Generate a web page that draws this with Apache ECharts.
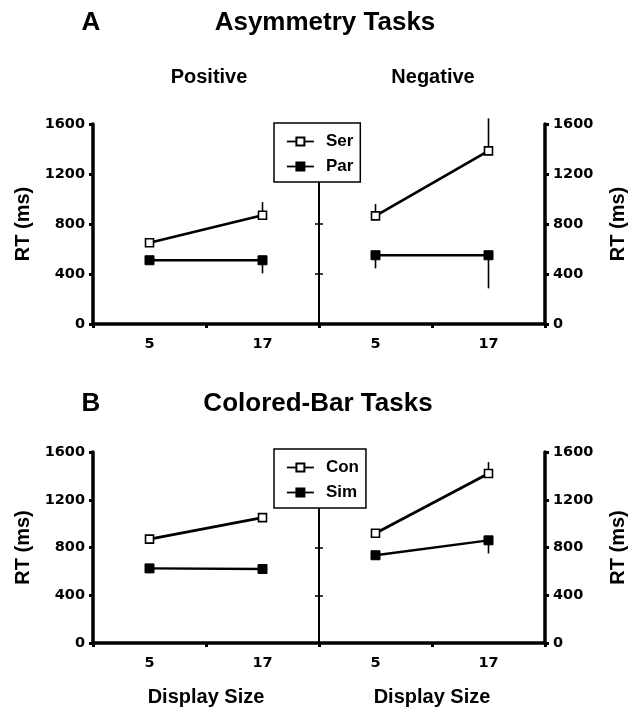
<!DOCTYPE html>
<html>
<head>
<meta charset="utf-8">
<script src="https://cdn.jsdelivr.net/npm/echarts@6/dist/echarts.min.js"></script>
<style>
html,body{margin:0;padding:0;background:#fff;}
#chart{width:629px;height:711px;}
</style>
</head>
<body>
<div id="chart"></div>
<script>
// ---- data ----
const categories = ['5', '17'];
const yTickLabels = ['0', '400', '800', '1200', '1600'];
// Panel A: Asymmetry tasks
const posSer = [650, 870];
const posSerErr = [35, 105];
const posPar = [510, 510];
const posParErr = [0, 105];
const negSer = [865, 1385];
const negSerErr = [95, 260];
const negPar = [550, 550];
const negParErr = [105, 265];
// Panel B: Colored-bar tasks
const leftCon = [870, 1050];
const leftConErr = [0, 0];
const leftSim = [625, 620];
const leftSimErr = [0, 0];
const rightCon = [920, 1420];
const rightConErr = [0, 95];
const rightSim = [735, 860];
const rightSimErr = [0, 110];

const FONT = "'Liberation Sans', Arial, Helvetica, sans-serif";
const TICKFONT = "'DejaVu Sans', sans-serif";
const chart = echarts.init(document.getElementById('chart'), null, {renderer: 'canvas'});

const grids = [
  {left: 93, top: 124, width: 226, height: 200},
  {left: 319, top: 124, width: 228, height: 200},
  {left: 93, top: 452, width: 226, height: 191},
  {left: 319, top: 452, width: 228, height: 191}
];

function xAx(gi, withName) {
  return {
    type: 'category', gridIndex: gi, data: categories, boundaryGap: true,
    axisLine: {lineStyle: {color: '#000', width: 3.5}},
    axisTick: {show: true, length: 4, lineStyle: {color: '#000', width: 3}},
    axisLabel: {color: '#000', fontSize: 14.5, fontWeight: 'bold', fontFamily: TICKFONT, margin: 13},
    name: withName ? 'Display Size' : '',
    nameLocation: 'middle', nameGap: 44,
    nameTextStyle: {color: '#000', fontSize: 20, fontWeight: 'bold', fontFamily: FONT}
  };
}
function yMain(gi, pos) {
  return {
    type: 'value', gridIndex: gi, position: pos, min: 0, max: 1600, interval: 400,
    axisLine: {show: true, lineStyle: {color: '#000', width: 3.5}},
    axisTick: {show: true, length: 4, lineStyle: {color: '#000', width: 3}},
    axisLabel: {color: '#000', fontSize: 14.5, fontWeight: 'bold', fontFamily: TICKFONT, margin: 8,
      formatter: v => yTickLabels[Math.round(v / 400)]},
    splitLine: {show: false},
    name: 'RT (ms)', nameLocation: 'middle', nameRotate: 90,
    nameGap: pos === 'left' ? 60 : 63,
    nameTextStyle: {color: '#000', fontSize: 20, fontWeight: 'bold', fontFamily: FONT}
  };
}
function yMid(gi, inside, showLine) {
  return {
    type: 'value', gridIndex: gi, position: 'left', min: 0, max: 1600, interval: 400,
    axisLine: {show: showLine, lineStyle: {color: '#000', width: 2}},
    axisTick: {show: true, inside: inside, length: 4, lineStyle: {color: '#000', width: 1.5}},
    axisLabel: {show: false}, splitLine: {show: false}
  };
}

function lineSeries(name, xi, yi, vals, open) {
  return {
    type: 'line', name: name, xAxisIndex: xi, yAxisIndex: yi, data: vals,
    symbol: 'rect', symbolSize: open ? 8 : 9,
    lineStyle: {color: '#000', width: open ? 2.8 : 2.3},
    itemStyle: open ? {color: '#fff', borderColor: '#000', borderWidth: 1.6}
                    : {color: '#000', borderColor: '#000', borderWidth: 1},
    z: 4, animation: false, silent: true
  };
}
function errSeries(xi, yi, vals, errs, dir) {
  return {
    type: 'custom', xAxisIndex: xi, yAxisIndex: yi, z: 3, silent: true, animation: false,
    data: vals.map((v, i) => [i, v, errs[i]]),
    renderItem: function (params, api) {
      const x = api.value(0), v = api.value(1), e = api.value(2);
      if (!e) return null;
      const p1 = api.coord([x, v]);
      const p2 = api.coord([x, v + dir * e]);
      return {type: 'line', shape: {x1: p1[0], y1: p1[1], x2: p2[0], y2: p2[1]},
        style: {stroke: '#000', lineWidth: 1.6}};
    }
  };
}
function legend(names, top) {
  return {
    data: names, orient: 'vertical', left: 274, top: top,
    padding: [10, 7, 7, 12], itemGap: 8, itemWidth: 27, itemHeight: 10,
    backgroundColor: '#fff', borderColor: '#000', borderWidth: 1.5, borderRadius: 0,
    lineStyle: {width: 1.8},
    textStyle: {color: '#000', fontSize: 17, fontWeight: 'bold', fontFamily: FONT, lineHeight: 12, padding: [0, 0, 0, 7]},
    selectedMode: false, z: 10
  };
}
function txt(x, y, s, size) {
  return {type: 'text', x: x, y: y, z: 10,
    style: {text: s, fill: '#000', font: 'bold ' + size + 'px ' + FONT, textAlign: 'center', textVerticalAlign: 'middle'}};
}

const option = {
  backgroundColor: '#fff',
  animation: false,
  grid: grids,
  xAxis: [xAx(0, false), xAx(1, false), xAx(2, true), xAx(3, true)],
  yAxis: [
    yMain(0, 'left'), yMain(1, 'right'), yMid(1, false, true), yMid(1, true, false),
    yMain(2, 'left'), yMain(3, 'right'), yMid(3, false, true), yMid(3, true, false)
  ],
  legend: [legend(['Ser', 'Par'], 123), legend(['Con', 'Sim'], 449)],
  series: [
    errSeries(0, 0, posSer, posSerErr, 1), errSeries(0, 0, posPar, posParErr, -1),
    errSeries(1, 1, negSer, negSerErr, 1), errSeries(1, 1, negPar, negParErr, -1),
    errSeries(2, 4, leftCon, leftConErr, 1), errSeries(2, 4, leftSim, leftSimErr, -1),
    errSeries(3, 5, rightCon, rightConErr, 1), errSeries(3, 5, rightSim, rightSimErr, -1),
    lineSeries('Ser', 0, 0, posSer, true), lineSeries('Par', 0, 0, posPar, false),
    lineSeries('Ser', 1, 1, negSer, true), lineSeries('Par', 1, 1, negPar, false),
    lineSeries('Con', 2, 4, leftCon, true), lineSeries('Sim', 2, 4, leftSim, false),
    lineSeries('Con', 3, 5, rightCon, true), lineSeries('Sim', 3, 5, rightSim, false)
  ],
  graphic: [
    txt(91, 23, 'A', 26), txt(325, 23, 'Asymmetry Tasks', 26),
    txt(209, 77, 'Positive', 20), txt(433, 77, 'Negative', 20),
    txt(91, 404, 'B', 26), txt(318, 404, 'Colored-Bar Tasks', 26)
  ]
};
chart.setOption(option);
</script>
</body>
</html>
